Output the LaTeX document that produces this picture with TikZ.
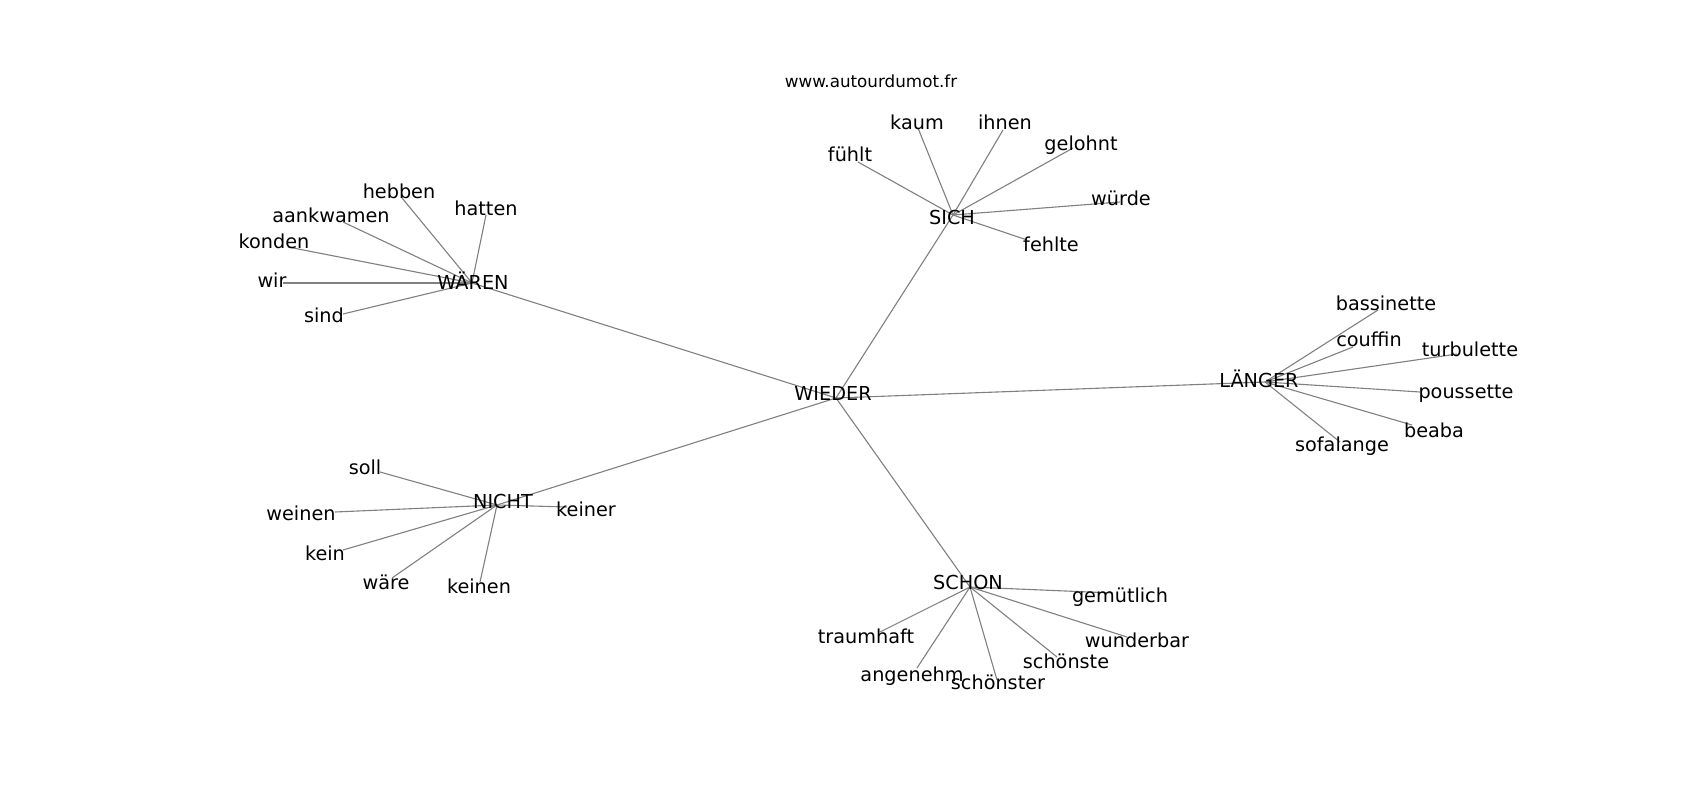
\documentclass[tikz,border=0pt]{standalone}
\usepackage{fontspec}
\setmainfont{DejaVu Sans}
\begin{document}
\begin{tikzpicture}[x=0.01in,y=-0.01in,
  word/.style={anchor=base,inner sep=0pt,font=\fontsize{13.9}{16}\selectfont},
  edge/.style={draw=gray,line width=0.8pt}]
\useasboundingbox (0,0) rectangle (1700,800);
% graph positions
\coordinate (wieder) at (836,398);
\coordinate (waeren) at (472,283);
\coordinate (sich) at (953,215);
\coordinate (laenger) at (1265,382);
\coordinate (nicht) at (497,505);
\coordinate (schon) at (970,587);
\coordinate (hebben) at (402,198);
\coordinate (hatten) at (486,215);
\coordinate (aankwamen) at (343,222);
\coordinate (konden) at (288,247);
\coordinate (wir) at (283,283);
\coordinate (sind) at (343,314);
\coordinate (kaum) at (918,128);
\coordinate (ihnen) at (1003,130);
\coordinate (gelohnt) at (1073,148);
\coordinate (fuehlt) at (858,162);
\coordinate (wuerde) at (1120,202);
\coordinate (fehlte) at (1027,240);
\coordinate (bassinette) at (1378,310);
\coordinate (couffin) at (1353,347);
\coordinate (turbulette) at (1457,354);
\coordinate (poussette) at (1420,392);
\coordinate (beaba) at (1412,425);
\coordinate (sofalange) at (1340,442);
\coordinate (soll) at (380,472);
\coordinate (keiner) at (567,507);
\coordinate (weinen) at (335,512);
\coordinate (kein) at (343,550);
\coordinate (waere) at (392,578);
\coordinate (keinen) at (480,582);
\coordinate (gemuetlich) at (1113,593);
\coordinate (traumhaft) at (880,632);
\coordinate (wunderbar) at (1127,637);
\coordinate (schoenste) at (1057,657);
\coordinate (angenehm) at (917,668);
\coordinate (schoenster) at (997,680);

% edges
\draw[edge] (wieder)--(waeren) (wieder)--(sich) (wieder)--(laenger) (wieder)--(nicht) (wieder)--(schon);
\foreach \w in {hebben,hatten,aankwamen,konden,wir,sind} \draw[edge] (waeren)--(\w);
\foreach \w in {kaum,ihnen,gelohnt,fuehlt,wuerde,fehlte} \draw[edge] (sich)--(\w);
\foreach \w in {bassinette,couffin,turbulette,poussette,beaba,sofalange} \draw[edge] (laenger)--(\w);
\foreach \w in {soll,keiner,weinen,kein,waere,keinen} \draw[edge] (nicht)--(\w);
\foreach \w in {gemuetlich,traumhaft,wunderbar,schoenste,angenehm,schoenster} \draw[edge] (schon)--(\w);

% labels
\node[word,font=\fontsize{12.1}{14}\selectfont] (site) at (871,88) {www.autourdumot.fr};
\node[word] (wieder-l) at (833,401) {WIEDER};
\node[word] (waeren-l) at (473,290) {WÄREN};
\node[word] (sich-l) at (952,225) {SICH};
\node[word] (laenger-l) at (1259,388) {LÄNGER};
\node[word] (nicht-l) at (503,508) {NICHT};
\node[word] (schon-l) at (968,589) {SCHON};
\node[word] (hebben-l) at (399,199) {hebben};
\node[word] (hatten-l) at (486,216) {hatten};
\node[word] (aankwamen-l) at (331,223) {aankwamen};
\node[word] (konden-l) at (274,249) {konden};
\node[word] (wir-l) at (272,288) {wir};
\node[word] (sind-l) at (324,323) {sind};
\node[word] (kaum-l) at (917,130) {kaum};
\node[word] (ihnen-l) at (1005,130) {ihnen};
\node[word] (gelohnt-l) at (1081,151) {gelohnt};
\node[word] (fuehlt-l) at (850,162) {fühlt};
\node[word] (wuerde-l) at (1121,206) {würde};
\node[word] (fehlte-l) at (1051,252) {fehlte};
\node[word] (bassinette-l) at (1386,311) {bassinette};
\node[word] (couffin-l) at (1369,347) {couffin};
\node[word] (turbulette-l) at (1470,357) {turbulette};
\node[word] (poussette-l) at (1466,399) {poussette};
\node[word] (beaba-l) at (1434,437) {beaba};
\node[word] (sofalange-l) at (1342,451) {sofalange};
\node[word] (soll-l) at (365,475) {soll};
\node[word] (keiner-l) at (586,516) {keiner};
\node[word] (weinen-l) at (301,520) {weinen};
\node[word] (kein-l) at (325,560) {kein};
\node[word] (waere-l) at (386,589) {wäre};
\node[word] (keinen-l) at (479,593) {keinen};
\node[word] (gemuetlich-l) at (1120,602) {gemütlich};
\node[word] (traumhaft-l) at (866,643) {traumhaft};
\node[word] (wunderbar-l) at (1137,647) {wunderbar};
\node[word] (schoenste-l) at (1066,668) {schönste};
\node[word] (angenehm-l) at (912,681) {angenehm};
\node[word] (schoenster-l) at (998,689) {schönster};
\end{tikzpicture}
\end{document}
